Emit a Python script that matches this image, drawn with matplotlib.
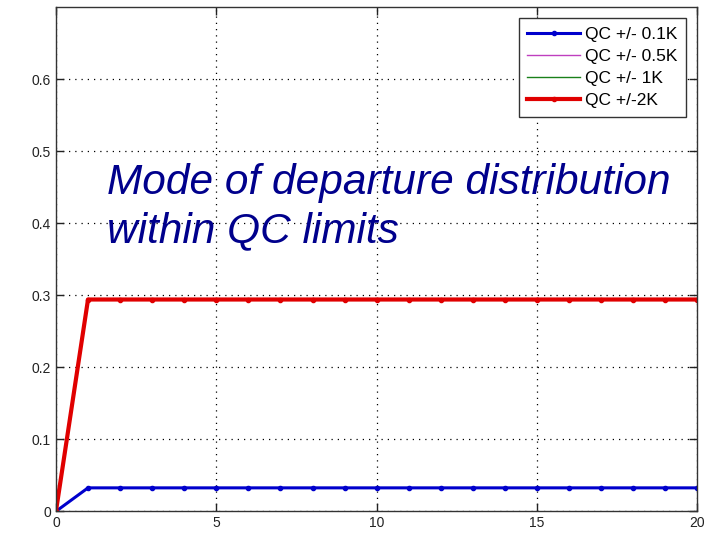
import numpy as np
import matplotlib.pyplot as plt

# step index along the x axis
steps = list(range(0, 21))

# mode of the departure distribution for each QC limit
mode_01k = [0.0] + [0.0326] * 20
mode_05k = [0.0] + [0.294] * 20
mode_1k = [0.0] + [0.294] * 20
mode_2k = [0.0] + [0.294] * 20

labels = ['QC +/- 0.1K', 'QC +/- 0.5K', 'QC +/- 1K', 'QC +/-2K']

plt.rcParams['font.family'] = ['Liberation Sans', 'DejaVu Sans']

fig = plt.figure(figsize=(7.08, 5.36), dpi=100)
ax = fig.add_axes([0.079, 0.046, 0.906, 0.941])

ax.plot(steps, mode_01k, color='#0000cc', lw=2.2, marker='.', ms=6,
        label=labels[0])
ax.plot(steps, mode_05k, color='#bf3fbf', lw=1.0, label=labels[1])
ax.plot(steps, mode_1k, color='#1a801a', lw=1.0, label=labels[2])
ax.plot(steps, mode_2k, color='#e00000', lw=3.0, marker='.', ms=6,
        label=labels[3])

ax.set_xlim(0, 20)
ax.set_ylim(0, 0.7)
ax.set_xticks([0, 5, 10, 15, 20])
ax.set_yticks([0, 0.1, 0.2, 0.3, 0.4, 0.5, 0.6])
ax.set_yticklabels(['0', '0.1', '0.2', '0.3', '0.4', '0.5', '0.6'])
ax.tick_params(direction='in', top=True, right=True, labelsize=10,
               length=6, width=1, colors='#222222')
ax.grid(True, linestyle=(0, (1, 4)), color='black', lw=0.9)
for sp in ax.spines.values():
    sp.set_color('#333333')
    sp.set_linewidth(1.0)

leg = ax.legend(loc='upper right', bbox_to_anchor=(0.982, 0.978),
                fontsize=12.5, handlelength=3.05, fancybox=False,
                framealpha=1, edgecolor='#333333', borderpad=0.5,
                labelspacing=0.4, handletextpad=0.25, borderaxespad=0)
leg.get_frame().set_linewidth(1.0)

ax.text(0.079, 0.69, 'Mode of departure distribution\nwithin QC limits',
        transform=ax.transAxes, fontsize=30.5, style='italic',
        color='#00008c', ha='left', va='top', linespacing=1.25)

fig.savefig('out.png', dpi=100, facecolor='white')
